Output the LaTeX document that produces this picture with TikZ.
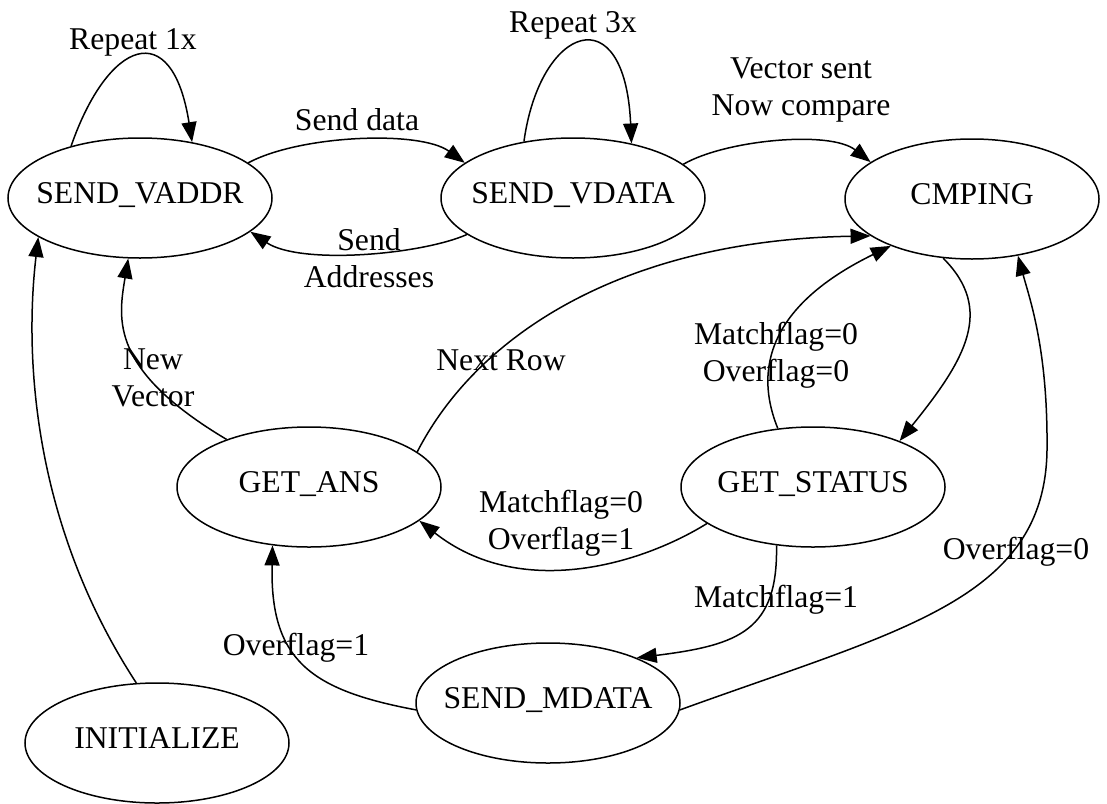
\documentclass[tikz,border=0pt]{standalone}
\usepackage{fontspec}
\setmainfont{Liberation Serif}
\usetikzlibrary{shapes.geometric,arrows.meta}
\begin{document}
\begin{tikzpicture}[x=1pt,y=-1pt,font=\fontsize{31.7}{37}\selectfont,line width=1.5pt,
  state/.style={draw, ellipse, minimum width=264pt, minimum height=120pt, inner xsep=-20pt, text height=24pt, text depth=14pt},
  lbl/.style={align=center, inner sep=0pt},
  >={Triangle[length=20pt,width=15pt]}]
\useasboundingbox (0,0) rectangle (1107,803);
\node[state] (vaddr) at (140,198) {SEND\_VADDR};
\node[state] (vdata) at (573,198) {SEND\_VDATA};
\node[state, minimum width=254pt] (cmp) at (972,199) {CMPING};
\node[state] (ans) at (309,487) {GET\_ANS};
\node[state] (stat) at (813,487) {GET\_STATUS};
\node[state] (mdata) at (548,703) {SEND\_MDATA};
\node[state] (init) at (157,743) {INITIALIZE};
\node[lbl] (lrep1) at (133,42) {Repeat 1x};
\node[lbl] (lrep3) at (573,25) {Repeat 3x};
\node[lbl] (lsdata) at (357,120) {Send data};
\node[lbl] (lsaddr) at (369,258) {Send\\Addresses};
\node[lbl] (lvsent) at (801,90) {Vector sent\\Now compare};
\node[lbl] (lnrow) at (501,360) {Next Row};
\node[lbl] (lnvec) at (153,378) {New\\Vector};
\node[lbl] (lmo00) at (776,355) {Matchflag=0\\Overflag=0};
\node[lbl] (lmo01) at (561,523) {Matchflag=0\\Overflag=1};
\node[lbl] (lm1) at (776,600) {Matchflag=1};
\node[lbl] (lo0) at (1016,552) {Overflag=0};
\node[lbl] (lo1) at (296,648) {Overflag=1};
\path[draw,->] (vaddr.143) .. controls (108,40) and (172,15) .. (vaddr.47);
\path[draw,->] (vdata.131) .. controls (540,25) and (625,-5) .. (vdata.43);
\path[draw,->] (vaddr.18) .. controls (300,135) and (420,130) .. (vdata.162);
\path[draw,->] (vdata.199) .. controls (420,255) and (300,265) .. (vaddr.343);
\path[draw,->] (vdata.17) .. controls (725,140) and (830,130) .. (cmp.160);
\path[draw,->] (ans.18) .. controls (480,330) and (630,240) .. (cmp.200);
\path[draw,->] (stat.121) .. controls (750,360) and (780,300) .. (cmp.210);
\path[draw,->] (cmp.244) .. controls (995,310) and (965,360) .. (stat.28);
\path[draw,->] (stat.199) .. controls (640,565) and (520,600) .. (ans.343);
\path[draw,->] (stat.238) .. controls (778,630) and (740,645) .. (mdata.27);
\path[draw,->] (mdata.357) .. controls (900,630) and (1045,600) .. (1047,450) .. controls (1048,350) and (1030,300) .. (cmp.309);
\path[draw,->] (mdata.183) .. controls (310,690) and (270,660) .. (ans.238);
\path[draw,->] (ans.150) .. controls (110,370) and (118,320) .. (vaddr.259);
\path[draw,->] (init.109) .. controls (30,520) and (25,350) .. (vaddr.201);
\end{tikzpicture}
\end{document}
